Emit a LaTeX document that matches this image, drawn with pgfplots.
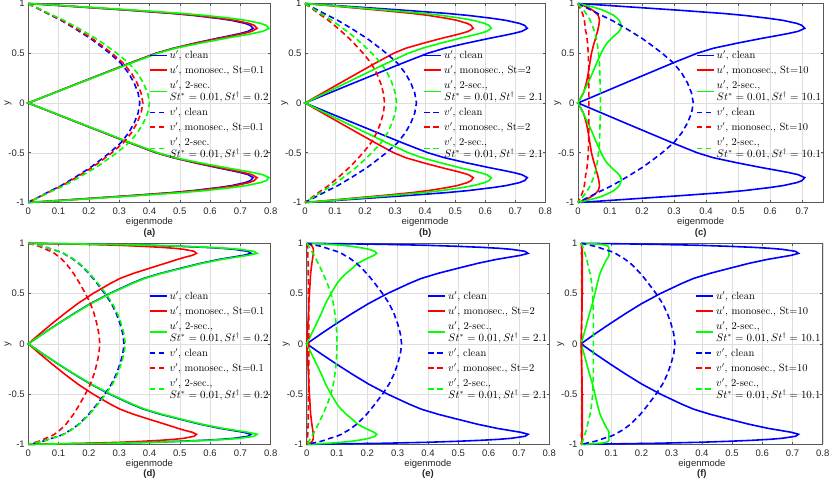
\documentclass[border=0pt]{standalone}
\usepackage{fontspec}
\setsansfont{Liberation Sans}
\usepackage{pgfplots}
\usepackage{pgfplotstable}
\pgfplotsset{compat=1.18}

% ---------- panel (a) ----------
\pgfplotstableread{
y uc um u2 vc vm v2
1 0 0 0 0 0 0
0.99 0.0505 0.0513 0.0541 0.0044 0.0045 0.0048
0.98 0.1002 0.1019 0.1073 0.011 0.0113 0.012
0.97 0.1484 0.151 0.159 0.0184 0.0189 0.02
0.95 0.2449 0.2492 0.2624 0.0313 0.0321 0.034
0.93 0.3413 0.3473 0.3657 0.0442 0.0454 0.048
0.9 0.4749 0.4832 0.5088 0.0626 0.0643 0.068
0.88 0.5454 0.5549 0.5843 0.0754 0.0775 0.082
0.85 0.627 0.638 0.6718 0.0957 0.0983 0.104
0.83 0.6715 0.6833 0.7195 0.1086 0.1115 0.118
0.8 0.716 0.7286 0.7672 0.1251 0.1285 0.136
0.78 0.7331 0.7459 0.7855 0.1362 0.1399 0.148
0.75 0.742 0.755 0.795 0.1527 0.1569 0.166
0.72 0.7257 0.7374 0.7733 0.1682 0.1727 0.1828
0.7 0.7012 0.7116 0.7431 0.1785 0.1833 0.194
0.68 0.6715 0.6806 0.7078 0.1888 0.1939 0.2052
0.65 0.6233 0.6304 0.6516 0.2042 0.2098 0.222
0.6 0.5476 0.552 0.5645 0.2263 0.2325 0.246
0.55 0.4786 0.4805 0.485 0.2477 0.2544 0.2692
0.5 0.4215 0.4232 0.4271 0.2686 0.2759 0.292
0.4 0.3339 0.3353 0.3384 0.3054 0.3137 0.332
0.3 0.2501 0.2511 0.2534 0.3312 0.3402 0.36
0.2 0.1662 0.1669 0.1684 0.3496 0.3591 0.38
0.1 0.0831 0.0834 0.0842 0.3625 0.3723 0.394
0 0 0 0 0.368 0.378 0.4
-0.1 0.0831 0.0834 0.0842 0.3625 0.3723 0.394
-0.2 0.1662 0.1669 0.1684 0.3496 0.3591 0.38
-0.3 0.2501 0.2511 0.2534 0.3312 0.3402 0.36
-0.4 0.3339 0.3353 0.3384 0.3054 0.3137 0.332
-0.5 0.4215 0.4232 0.4271 0.2686 0.2759 0.292
-0.55 0.4786 0.4805 0.485 0.2477 0.2544 0.2692
-0.6 0.5476 0.552 0.5645 0.2263 0.2325 0.246
-0.65 0.6233 0.6304 0.6516 0.2042 0.2098 0.222
-0.68 0.6715 0.6806 0.7078 0.1888 0.1939 0.2052
-0.7 0.7012 0.7116 0.7431 0.1785 0.1833 0.194
-0.72 0.7257 0.7374 0.7733 0.1682 0.1727 0.1828
-0.75 0.742 0.755 0.795 0.1527 0.1569 0.166
-0.78 0.7331 0.7459 0.7855 0.1362 0.1399 0.148
-0.8 0.716 0.7286 0.7672 0.1251 0.1285 0.136
-0.83 0.6715 0.6833 0.7195 0.1086 0.1115 0.118
-0.85 0.627 0.638 0.6718 0.0957 0.0983 0.104
-0.88 0.5454 0.5549 0.5843 0.0754 0.0775 0.082
-0.9 0.4749 0.4832 0.5088 0.0626 0.0643 0.068
-0.93 0.3413 0.3473 0.3657 0.0442 0.0454 0.048
-0.95 0.2449 0.2492 0.2624 0.0313 0.0321 0.034
-0.97 0.1484 0.151 0.159 0.0184 0.0189 0.02
-0.98 0.1002 0.1019 0.1073 0.011 0.0113 0.012
-0.99 0.0505 0.0513 0.0541 0.0044 0.0045 0.0048
-1 0 0 0 0 0 0
}\tabA

% ---------- panel (b) ----------
\pgfplotstableread{
y uc um u2 vc vm v2
1 0 0 0 0 0 0
0.99 0.0503 0.0381 0.0422 0.0045 0.0032 0.0037
0.98 0.0999 0.0756 0.0837 0.0111 0.008 0.0092
0.97 0.148 0.112 0.124 0.0186 0.0133 0.0153
0.95 0.2442 0.1848 0.2046 0.0315 0.0225 0.0259
0.93 0.3404 0.2576 0.2852 0.0445 0.0318 0.0366
0.9 0.4736 0.3584 0.3968 0.0631 0.0451 0.0519
0.88 0.5439 0.4116 0.4557 0.0761 0.0543 0.0625
0.85 0.6253 0.4732 0.5239 0.0965 0.0689 0.0793
0.83 0.6697 0.5068 0.5611 0.1094 0.0782 0.09
0.8 0.7141 0.5404 0.5983 0.1261 0.0901 0.1037
0.78 0.7311 0.5533 0.6126 0.1373 0.098 0.1129
0.75 0.74 0.56 0.62 0.154 0.11 0.1266
0.72 0.7218 0.5438 0.6049 0.1695 0.1211 0.1394
0.7 0.6955 0.5216 0.5831 0.1799 0.1285 0.1479
0.68 0.6643 0.4959 0.557 0.1903 0.1359 0.1565
0.65 0.614 0.4553 0.5151 0.2059 0.1471 0.1693
0.6 0.5358 0.3926 0.4498 0.2282 0.163 0.1876
0.55 0.4644 0.3354 0.3902 0.2497 0.1783 0.2053
0.5 0.409 0.2954 0.3436 0.2708 0.1935 0.2227
0.4 0.324 0.234 0.2723 0.3079 0.22 0.2532
0.3 0.2426 0.1752 0.2039 0.3339 0.2385 0.2745
0.2 0.1613 0.1165 0.1355 0.3525 0.2518 0.2898
0.1 0.0806 0.0582 0.0678 0.3654 0.261 0.3004
0 0 0 0 0.371 0.265 0.305
-0.1 0.0806 0.0582 0.0678 0.3654 0.261 0.3004
-0.2 0.1613 0.1165 0.1355 0.3525 0.2518 0.2898
-0.3 0.2426 0.1752 0.2039 0.3339 0.2385 0.2745
-0.4 0.324 0.234 0.2723 0.3079 0.22 0.2532
-0.5 0.409 0.2954 0.3436 0.2708 0.1935 0.2227
-0.55 0.4644 0.3354 0.3902 0.2497 0.1783 0.2053
-0.6 0.5358 0.3926 0.4498 0.2282 0.163 0.1876
-0.65 0.614 0.4553 0.5151 0.2059 0.1471 0.1693
-0.68 0.6643 0.4959 0.557 0.1903 0.1359 0.1565
-0.7 0.6955 0.5216 0.5831 0.1799 0.1285 0.1479
-0.72 0.7218 0.5438 0.6049 0.1695 0.1211 0.1394
-0.75 0.74 0.56 0.62 0.154 0.11 0.1266
-0.78 0.7311 0.5533 0.6126 0.1373 0.098 0.1129
-0.8 0.7141 0.5404 0.5983 0.1261 0.0901 0.1037
-0.83 0.6697 0.5068 0.5611 0.1094 0.0782 0.09
-0.85 0.6253 0.4732 0.5239 0.0965 0.0689 0.0793
-0.88 0.5439 0.4116 0.4557 0.0761 0.0543 0.0625
-0.9 0.4736 0.3584 0.3968 0.0631 0.0451 0.0519
-0.93 0.3404 0.2576 0.2852 0.0445 0.0318 0.0366
-0.95 0.2442 0.1848 0.2046 0.0315 0.0225 0.0259
-0.97 0.148 0.112 0.124 0.0186 0.0133 0.0153
-0.98 0.0999 0.0756 0.0837 0.0111 0.008 0.0092
-0.99 0.0503 0.0381 0.0422 0.0045 0.0032 0.0037
-1 0 0 0 0 0 0
}\tabB

% ---------- panel (c) ----------
\pgfplotstableread{
y uc um u2 vc vm v2
1 0 0 0 0 0 0
0.99 0.0481 0.008 0.014 0.0043 0.001 0.002
0.98 0.0956 0.016 0.027 0.0108 0.002 0.004
0.97 0.1416 0.024 0.04 0.018 0.004 0.007
0.95 0.2336 0.037 0.062 0.0306 0.007 0.013
0.93 0.3257 0.047 0.08 0.0432 0.01 0.018
0.9 0.4531 0.058 0.1 0.0612 0.014 0.025
0.88 0.5204 0.063 0.112 0.0738 0.016 0.029
0.85 0.5983 0.066 0.123 0.0936 0.018 0.035
0.83 0.6407 0.067 0.129 0.1062 0.02 0.038
0.8 0.6832 0.066 0.133 0.1224 0.021 0.042
0.78 0.6995 0.065 0.135 0.1332 0.022 0.045
0.75 0.708 0.063 0.134 0.1494 0.023 0.048
0.72 0.6872 0.061 0.128 0.1645 0.024 0.051
0.7 0.659 0.059 0.122 0.1746 0.026 0.053
0.68 0.6264 0.057 0.115 0.1847 0.027 0.055
0.65 0.5747 0.055 0.105 0.1998 0.028 0.057
0.6 0.4951 0.05 0.09 0.2214 0.03 0.06
0.55 0.4225 0.046 0.08 0.2423 0.031 0.062
0.5 0.372 0.042 0.072 0.2628 0.032 0.064
0.4 0.2948 0.037 0.058 0.2988 0.033 0.067
0.3 0.2207 0.032 0.045 0.324 0.034 0.068
0.2 0.1467 0.026 0.031 0.342 0.034 0.069
0.1 0.0734 0.017 0.016 0.3546 0.034 0.07
0 0 0 0 0.36 0.034 0.07
-0.1 0.0734 0.017 0.016 0.3546 0.034 0.07
-0.2 0.1467 0.026 0.031 0.342 0.034 0.069
-0.3 0.2207 0.032 0.045 0.324 0.034 0.068
-0.4 0.2948 0.037 0.058 0.2988 0.033 0.067
-0.5 0.372 0.042 0.072 0.2628 0.032 0.064
-0.55 0.4225 0.046 0.08 0.2423 0.031 0.062
-0.6 0.4951 0.05 0.09 0.2214 0.03 0.06
-0.65 0.5747 0.055 0.105 0.1998 0.028 0.057
-0.68 0.6264 0.057 0.115 0.1847 0.027 0.055
-0.7 0.659 0.059 0.122 0.1746 0.026 0.053
-0.72 0.6872 0.061 0.128 0.1645 0.024 0.051
-0.75 0.708 0.063 0.134 0.1494 0.023 0.048
-0.78 0.6995 0.065 0.135 0.1332 0.022 0.045
-0.8 0.6832 0.066 0.133 0.1224 0.021 0.042
-0.83 0.6407 0.067 0.129 0.1062 0.02 0.038
-0.85 0.5983 0.066 0.123 0.0936 0.018 0.035
-0.88 0.5204 0.063 0.112 0.0738 0.016 0.029
-0.9 0.4531 0.058 0.1 0.0612 0.014 0.025
-0.93 0.3257 0.047 0.08 0.0432 0.01 0.018
-0.95 0.2336 0.037 0.062 0.0306 0.007 0.013
-0.97 0.1416 0.024 0.04 0.018 0.004 0.007
-0.98 0.0956 0.016 0.027 0.0108 0.002 0.004
-0.99 0.0481 0.008 0.014 0.0043 0.001 0.002
-1 0 0 0 0 0 0
}\tabC

% ---------- panel (d) ----------
\pgfplotstableread{
y uc um u2 vc vm v2
1 0 0 0 0 0 0
0.995 0.13 0.0982 0.1335 0.0095 0.0071 0.0096
0.99 0.25 0.1888 0.2568 0.0174 0.013 0.0176
0.98 0.4 0.302 0.4108 0.0316 0.0236 0.032
0.97 0.5 0.3776 0.5135 0.0474 0.0354 0.048
0.96 0.58 0.438 0.5957 0.0585 0.0437 0.0592
0.95 0.64 0.4832 0.6573 0.0679 0.0507 0.0688
0.94 0.68 0.5135 0.6984 0.0774 0.0578 0.0784
0.92 0.725 0.5475 0.7446 0.0999 0.0746 0.1011
0.9 0.735 0.555 0.755 0.116 0.0866 0.1174
0.88 0.71 0.541 0.7242 0.1264 0.0944 0.128
0.86 0.67 0.515 0.6814 0.139 0.1038 0.1408
0.84 0.63 0.4928 0.6388 0.1485 0.1109 0.1504
0.8 0.567 0.4513 0.5727 0.1665 0.1244 0.1686
0.75 0.5 0.398 0.505 0.1836 0.1371 0.1859
0.7 0.435 0.3462 0.4394 0.2 0.1494 0.2026
0.65 0.38 0.3024 0.3838 0.2139 0.1598 0.2166
0.6 0.34 0.2706 0.3434 0.2272 0.1697 0.2301
0.5 0.268 0.2133 0.2707 0.2525 0.1886 0.2557
0.4 0.205 0.1632 0.2071 0.2746 0.2051 0.2781
0.3 0.15 0.1194 0.1515 0.2907 0.2171 0.2944
0.2 0.098 0.078 0.099 0.3027 0.2261 0.3066
0.1 0.048 0.0382 0.0485 0.3119 0.2329 0.3158
0 0 0 0 0.316 0.236 0.32
-0.1 0.048 0.0382 0.0485 0.3119 0.2329 0.3158
-0.2 0.098 0.078 0.099 0.3027 0.2261 0.3066
-0.3 0.15 0.1194 0.1515 0.2907 0.2171 0.2944
-0.4 0.205 0.1632 0.2071 0.2746 0.2051 0.2781
-0.5 0.268 0.2133 0.2707 0.2525 0.1886 0.2557
-0.6 0.34 0.2706 0.3434 0.2272 0.1697 0.2301
-0.65 0.38 0.3024 0.3838 0.2139 0.1598 0.2166
-0.7 0.435 0.3462 0.4394 0.2 0.1494 0.2026
-0.75 0.5 0.398 0.505 0.1836 0.1371 0.1859
-0.8 0.567 0.4513 0.5727 0.1665 0.1244 0.1686
-0.84 0.63 0.4928 0.6388 0.1485 0.1109 0.1504
-0.86 0.67 0.515 0.6814 0.139 0.1038 0.1408
-0.88 0.71 0.541 0.7242 0.1264 0.0944 0.128
-0.9 0.735 0.555 0.755 0.116 0.0866 0.1174
-0.92 0.725 0.5475 0.7446 0.0999 0.0746 0.1011
-0.94 0.68 0.5135 0.6984 0.0774 0.0578 0.0784
-0.95 0.64 0.4832 0.6573 0.0679 0.0507 0.0688
-0.96 0.58 0.438 0.5957 0.0585 0.0437 0.0592
-0.97 0.5 0.3776 0.5135 0.0474 0.0354 0.048
-0.98 0.4 0.302 0.4108 0.0316 0.0236 0.032
-0.99 0.25 0.1888 0.2568 0.0174 0.013 0.0176
-0.995 0.13 0.0982 0.1335 0.0095 0.0071 0.0096
-1 0 0 0 0 0 0
}\tabD

% ---------- panel (e) ----------
\pgfplotstableread{
y uc um u2 vc vm v2
1 0 0 0 0 0 0
0.995 0.1291 0.006 0.04 0.0094 0.001 0.002
0.99 0.2483 0.01 0.07 0.0172 0.001 0.003
0.98 0.3973 0.015 0.115 0.0313 0.002 0.005
0.97 0.4966 0.018 0.148 0.047 0.002 0.007
0.96 0.576 0.02 0.17 0.0579 0.003 0.009
0.95 0.6356 0.021 0.19 0.0673 0.003 0.011
0.94 0.6754 0.022 0.206 0.0767 0.003 0.013
0.92 0.7201 0.022 0.225 0.0989 0.003 0.017
0.9 0.73 0.022 0.231 0.1149 0.004 0.021
0.88 0.7052 0.021 0.222 0.1252 0.004 0.025
0.86 0.6655 0.02 0.207 0.1377 0.004 0.028
0.84 0.6257 0.019 0.193 0.1471 0.004 0.031
0.8 0.5631 0.017 0.168 0.165 0.005 0.038
0.75 0.4966 0.015 0.15 0.1819 0.005 0.046
0.7 0.432 0.013 0.13 0.1981 0.005 0.054
0.65 0.3774 0.012 0.113 0.2119 0.006 0.061
0.6 0.3377 0.011 0.1 0.225 0.006 0.068
0.5 0.2662 0.009 0.08 0.2501 0.006 0.08
0.4 0.2036 0.007 0.062 0.272 0.007 0.088
0.3 0.149 0.006 0.048 0.288 0.007 0.093
0.2 0.0973 0.004 0.032 0.2999 0.007 0.097
0.1 0.0477 0.002 0.016 0.3089 0.007 0.099
0 0 0 0 0.313 0.007 0.1
-0.1 0.0477 0.002 0.016 0.3089 0.007 0.099
-0.2 0.0973 0.004 0.032 0.2999 0.007 0.097
-0.3 0.149 0.006 0.048 0.288 0.007 0.093
-0.4 0.2036 0.007 0.062 0.272 0.007 0.088
-0.5 0.2662 0.009 0.08 0.2501 0.006 0.08
-0.6 0.3377 0.011 0.1 0.225 0.006 0.068
-0.65 0.3774 0.012 0.113 0.2119 0.006 0.061
-0.7 0.432 0.013 0.13 0.1981 0.005 0.054
-0.75 0.4966 0.015 0.15 0.1819 0.005 0.046
-0.8 0.5631 0.017 0.168 0.165 0.005 0.038
-0.84 0.6257 0.019 0.193 0.1471 0.004 0.031
-0.86 0.6655 0.02 0.207 0.1377 0.004 0.028
-0.88 0.7052 0.021 0.222 0.1252 0.004 0.025
-0.9 0.73 0.022 0.231 0.1149 0.004 0.021
-0.92 0.7201 0.022 0.225 0.0989 0.003 0.017
-0.94 0.6754 0.022 0.206 0.0767 0.003 0.013
-0.95 0.6356 0.021 0.19 0.0673 0.003 0.011
-0.96 0.576 0.02 0.17 0.0579 0.003 0.009
-0.97 0.4966 0.018 0.148 0.047 0.002 0.007
-0.98 0.3973 0.015 0.115 0.0313 0.002 0.005
-0.99 0.2483 0.01 0.07 0.0172 0.001 0.003
-0.995 0.1291 0.006 0.04 0.0094 0.001 0.002
-1 0 0 0 0 0 0
}\tabE

% ---------- panel (f) ----------
\pgfplotstableread{
y uc um u2 vc vm v2
1 0 0 0 0 0 0
0.995 0.1274 0.002 0.04 0.0093 0.0005 0.001
0.99 0.2449 0.003 0.065 0.0171 0.001 0.002
0.98 0.3918 0.004 0.083 0.0311 0.001 0.004
0.97 0.4898 0.004 0.09 0.0467 0.0015 0.005
0.96 0.5682 0.004 0.092 0.0575 0.0015 0.006
0.95 0.6269 0.004 0.092 0.0669 0.0015 0.008
0.94 0.6661 0.004 0.092 0.0762 0.0015 0.009
0.92 0.7102 0.004 0.092 0.0983 0.0015 0.011
0.9 0.72 0.004 0.092 0.1141 0.0015 0.013
0.88 0.6955 0.004 0.093 0.1244 0.002 0.015
0.86 0.6564 0.004 0.09 0.1368 0.002 0.017
0.84 0.6171 0.004 0.085 0.1462 0.002 0.019
0.8 0.5554 0.004 0.078 0.1639 0.002 0.022
0.75 0.4898 0.004 0.07 0.1807 0.002 0.026
0.7 0.4261 0.004 0.063 0.1969 0.002 0.03
0.65 0.3722 0.004 0.058 0.2105 0.002 0.033
0.6 0.3331 0.004 0.054 0.2236 0.002 0.035
0.5 0.2625 0.004 0.046 0.2485 0.002 0.039
0.4 0.2008 0.0035 0.038 0.2703 0.002 0.04
0.3 0.147 0.003 0.028 0.2861 0.002 0.041
0.2 0.096 0.002 0.019 0.2979 0.002 0.041
0.1 0.047 0.001 0.01 0.307 0.002 0.041
0 0 0 0 0.311 0.002 0.041
-0.1 0.047 0.001 0.01 0.307 0.002 0.041
-0.2 0.096 0.002 0.019 0.2979 0.002 0.041
-0.3 0.147 0.003 0.028 0.2861 0.002 0.041
-0.4 0.2008 0.0035 0.038 0.2703 0.002 0.04
-0.5 0.2625 0.004 0.046 0.2485 0.002 0.039
-0.6 0.3331 0.004 0.054 0.2236 0.002 0.035
-0.65 0.3722 0.004 0.058 0.2105 0.002 0.033
-0.7 0.4261 0.004 0.063 0.1969 0.002 0.03
-0.75 0.4898 0.004 0.07 0.1807 0.002 0.026
-0.8 0.5554 0.004 0.078 0.1639 0.002 0.022
-0.84 0.6171 0.004 0.085 0.1462 0.002 0.019
-0.86 0.6564 0.004 0.09 0.1368 0.002 0.017
-0.88 0.6955 0.004 0.093 0.1244 0.002 0.015
-0.9 0.72 0.004 0.092 0.1141 0.0015 0.013
-0.92 0.7102 0.004 0.092 0.0983 0.0015 0.011
-0.94 0.6661 0.004 0.092 0.0762 0.0015 0.009
-0.95 0.6269 0.004 0.092 0.0669 0.0015 0.008
-0.96 0.5682 0.004 0.092 0.0575 0.0015 0.006
-0.97 0.4898 0.004 0.09 0.0467 0.0015 0.005
-0.98 0.3918 0.004 0.083 0.0311 0.001 0.004
-0.99 0.2449 0.003 0.065 0.0171 0.001 0.002
-0.995 0.1274 0.002 0.04 0.0093 0.0005 0.001
-1 0 0 0 0 0 0
}\tabF

\tikzset{
  plab/.style={font=\sffamily\bfseries\fontsize{9.5}{11}\selectfont, text=black!85},
}

\newcommand{\two}[2]{\vbox{\hbox{#1}\hbox{#2}}}

\pgfplotsset{
  cu/.style={draw=blue, line width=1.6pt,
    legend image code/.code={\draw[draw=blue, line width=1.6pt] (0pt,0pt) -- (17pt,0pt);}},
  mu/.style={draw=red, line width=1.6pt,
    legend image code/.code={\draw[draw=red, line width=1.6pt] (0pt,0pt) -- (17pt,0pt);}},
  tu/.style={draw=green, line width=1.6pt,
    legend image code/.code={\draw[draw=green, line width=1.6pt] (0pt,0pt) -- (17pt,0pt);}},
  cv/.style={draw=blue, line width=1.6pt, dash pattern=on 5.5pt off 3.5pt,
    legend image code/.code={\draw[draw=blue, line width=1.6pt, dash pattern=on 5.5pt off 3.5pt] (0pt,0pt) -- (17pt,0pt);}},
  mv/.style={draw=red, line width=1.6pt, dash pattern=on 5.5pt off 3.5pt,
    legend image code/.code={\draw[draw=red, line width=1.6pt, dash pattern=on 5.5pt off 3.5pt] (0pt,0pt) -- (17pt,0pt);}},
  tv/.style={draw=green, line width=1.6pt, dash pattern=on 5.5pt off 3.5pt,
    legend image code/.code={\draw[draw=green, line width=1.6pt, dash pattern=on 5.5pt off 3.5pt] (0pt,0pt) -- (17pt,0pt);}},
  panel/.style={
    scale only axis, clip=false,
    xmin=0, xmax=0.8, ymin=-1, ymax=1,
    xtick={0,0.1,0.2,0.3,0.4,0.5,0.6,0.7,0.8},
    ytick={-1,-0.5,0,0.5,1},
    grid=major,
    major grid style={draw=black!13, line width=0.4pt},
    axis line style={draw=black!65, line width=0.5pt},
    every tick/.style={draw=black!65, line width=0.5pt},
    major tick length=2.5pt,
    tick align=inside,
    ticklabel style={font=\sffamily\fontsize{9.5}{11}\selectfont, text=black!85},
    xticklabel style={yshift=-2pt},
    /pgf/number format/assume math mode=true,
    xlabel={eigenmode}, ylabel={y},
    label style={font=\sffamily\fontsize{9.5}{11}\selectfont, text=black!85},
    xlabel style={at={(axis description cs:0.5,0)}, anchor=center, yshift=-19.5pt},
    ylabel shift=-10pt,
    legend cell align=left,
    legend style={at={(1,0.49)}, anchor=east, draw=none, fill=none,
      font=\fontsize{10.5}{12.5}\selectfont, inner sep=0pt, row sep=1.5pt},
  },
}

\begin{document}
\begin{tikzpicture}
\path[use as bounding box] (0pt,0pt) rectangle (830pt,480pt);

% (a)
\begin{axis}[panel, at={(28.3pt,277.5pt)}, anchor=south west, width=242.4pt, height=199pt]
\addplot[cu] table[x=uc,y=y]{\tabA}; \addlegendentry{$u'$, clean}
\addplot[mu] table[x=um,y=y]{\tabA}; \addlegendentry{$u'$, monosec., St=0.1}
\addplot[tu] table[x=u2,y=y]{\tabA}; \addlegendentry{\two{$u'$, 2-sec.}{$St^{*}=0.01, St^{\dagger}=0.2$}}
\addplot[cv] table[x=vc,y=y]{\tabA}; \addlegendentry{$v'$, clean}
\addplot[mv] table[x=vm,y=y]{\tabA}; \addlegendentry{$v'$, monosec., St=0.1}
\addplot[tv] table[x=v2,y=y]{\tabA}; \addlegendentry{\two{$v'$, 2-sec.}{$St^{*}=0.01, St^{\dagger}=0.2$}}
\node[plab] at (rel axis cs:0.5,0) [yshift=-30.5pt] {(a)};
\end{axis}

% (b)
\begin{axis}[panel, at={(305pt,277.5pt)}, anchor=south west, width=240.3pt, height=199pt]
\addplot[cu] table[x=uc,y=y]{\tabB}; \addlegendentry{$u'$, clean}
\addplot[mu] table[x=um,y=y]{\tabB}; \addlegendentry{$u'$, monosec., St=2}
\addplot[tu] table[x=u2,y=y]{\tabB}; \addlegendentry{\two{$u'$, 2-sec.,}{$St^{*}=0.01, St^{\dagger}=2.1$}}
\addplot[cv] table[x=vc,y=y]{\tabB}; \addlegendentry{$v'$, clean}
\addplot[mv] table[x=vm,y=y]{\tabB}; \addlegendentry{$v'$, monosec., St=2}
\addplot[tv] table[x=v2,y=y]{\tabB}; \addlegendentry{\two{$v'$, 2-sec.,}{$St^{*}=0.01, St^{\dagger}=2.1$}}
\node[plab] at (rel axis cs:0.5,0) [yshift=-30.5pt] {(b)};
\end{axis}

% (c)
\begin{axis}[panel, at={(578pt,277.5pt)}, anchor=south west, width=245.3pt, height=199pt,
  xmax=0.766, xtick={0,0.1,0.2,0.3,0.4,0.5,0.6,0.7}]
\addplot[cu] table[x=uc,y=y]{\tabC}; \addlegendentry{$u'$, clean}
\addplot[mu] table[x=um,y=y]{\tabC}; \addlegendentry{$u'$, monosec., St=10}
\addplot[tu] table[x=u2,y=y]{\tabC}; \addlegendentry{\two{$u'$, 2-sec.,}{$St^{*}=0.01, St^{\dagger}=10.1$}}
\addplot[cv] table[x=vc,y=y]{\tabC}; \addlegendentry{$v'$, clean}
\addplot[mv] table[x=vm,y=y]{\tabC}; \addlegendentry{$v'$, monosec., St=10}
\addplot[tv] table[x=v2,y=y]{\tabC}; \addlegendentry{\two{$v'$, 2-sec.,}{$St^{*}=0.01, St^{\dagger}=10.1$}}
\node[plab] at (rel axis cs:0.5,0) [yshift=-30.5pt] {(c)};
\end{axis}

% (d)
\begin{axis}[panel, at={(28.3pt,35.7pt)}, anchor=south west, width=242.4pt, height=201pt]
\addplot[cu] table[x=uc,y=y]{\tabD}; \addlegendentry{$u'$, clean}
\addplot[mu] table[x=um,y=y]{\tabD}; \addlegendentry{$u'$, monosec., St=0.1}
\addplot[tu] table[x=u2,y=y]{\tabD}; \addlegendentry{\two{$u'$, 2-sec.,}{$St^{*}=0.01, St^{\dagger}=0.2$}}
\addplot[cv] table[x=vc,y=y]{\tabD}; \addlegendentry{$v'$, clean}
\addplot[mv] table[x=vm,y=y]{\tabD}; \addlegendentry{$v'$, monosec., St=0.1}
\addplot[tv] table[x=v2,y=y]{\tabD}; \addlegendentry{\two{$v'$, 2-sec.,}{$St^{*}=0.01, St^{\dagger}=0.2$}}
\node[plab] at (rel axis cs:0.5,0) [yshift=-30pt] {(d)};
\end{axis}

% (e)
\begin{axis}[panel, at={(306.7pt,35.7pt)}, anchor=south west, width=242.6pt, height=201pt]
\addplot[cu] table[x=uc,y=y]{\tabE}; \addlegendentry{$u'$, clean}
\addplot[mu] table[x=um,y=y]{\tabE}; \addlegendentry{$u'$, monosec., St=2}
\addplot[tu] table[x=u2,y=y]{\tabE}; \addlegendentry{\two{$u'$, 2-sec.,}{$St^{*}=0.01, St^{\dagger}=2.1$}}
\addplot[cv] table[x=vc,y=y]{\tabE}; \addlegendentry{$v'$, clean}
\addplot[mv] table[x=vm,y=y]{\tabE}; \addlegendentry{$v'$, monosec., St=2}
\addplot[tv] table[x=v2,y=y]{\tabE}; \addlegendentry{\two{$v'$, 2-sec.,}{$St^{*}=0.01, St^{\dagger}=2.1$}}
\node[plab] at (rel axis cs:0.5,0) [yshift=-30pt] {(e)};
\end{axis}

% (f)
\begin{axis}[panel, at={(581pt,35.7pt)}, anchor=south west, width=241.7pt, height=201pt]
\addplot[cu] table[x=uc,y=y]{\tabF}; \addlegendentry{$u'$, clean}
\addplot[mu] table[x=um,y=y]{\tabF}; \addlegendentry{$u'$, monosec., St=10}
\addplot[tu] table[x=u2,y=y]{\tabF}; \addlegendentry{\two{$u'$, 2-sec.,}{$St^{*}=0.01, St^{\dagger}=10.1$}}
\addplot[cv] table[x=vc,y=y]{\tabF}; \addlegendentry{$v'$, clean}
\addplot[mv] table[x=vm,y=y]{\tabF}; \addlegendentry{$v'$, monosec., St=10}
\addplot[tv] table[x=v2,y=y]{\tabF}; \addlegendentry{\two{$v'$, 2-sec.,}{$St^{*}=0.01, St^{\dagger}=10.1$}}
\node[plab] at (rel axis cs:0.5,0) [yshift=-30pt] {(f)};
\end{axis}
\end{tikzpicture}
\end{document}
